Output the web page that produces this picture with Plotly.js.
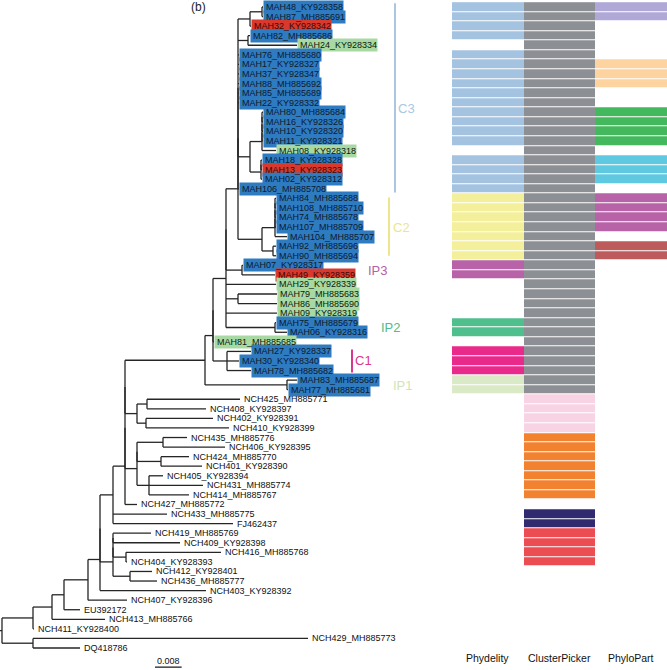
<!DOCTYPE html>
<html><head><meta charset="utf-8">
<script src="https://cdn.plot.ly/plotly-3.0.1.min.js"></script>
<style>html,body{margin:0;padding:0;background:#fff}#chart{width:667px;height:670px}</style>
</head><body><div id="chart"></div>
<script>
// ---------------- DATA ----------------
// Tree (Newick, branch lengths in substitutions/site), assembled from named sub-clades
const cN1   = "((MAH48_KY928358:0.0003,MAH87_MH885691:0.0003):0.0036,MAH32_KY928342:0.0003):0.0036";
const cN82  = "(MAH82_MH885686:0.0006,MAH24_KY928334:0.0147):0.003";
const cPoly = "MAH76_MH885680:0.0003,MAH17_KY928327:0.0003,MAH37_KY928347:0.0003,MAH88_MH885692:0.0003,MAH85_MH885689:0.0003,MAH22_KY928332:0.0003";
const cA80  = "((((MAH80_MH885684:0.0003,MAH16_KY928326:0.0003):0,MAH10_KY928320:0.0003):0,MAH11_KY928321:0.0003):0,MAH08_KY928318:0.0042):0.0036";
const cB18  = "((MAH18_KY928328:0.0003,MAH13_KY928323:0.0003):0,MAH02_KY928312:0.0003):0.0033";
const cN80  = "(" + cA80 + "," + cB18 + "):0.0036";
const cC3   = "((" + cN1 + "," + cN82 + "," + cPoly + "," + cN80 + "):0,MAH106_MH885708:0.0003):0";
const cS    = "((((MAH84_MH885688:0.0003,MAH108_MH885710:0.0003):0,MAH74_MH885678:0.0003):0,MAH107_MH885709:0.0003):0,MAH104_MH885707:0.0036):0.0039";
const cT    = "(MAH92_MH885696:0.0009,MAH90_MH885694:0.0009):0.0033";
const cC2   = "(" + cS + "," + cT + "):0.0072";
const cX    = "(" + cC3 + "," + cC2 + "):0.0036";
const cP    = "(MAH07_KY928317:0.0003,MAH49_KY928359:0.0099):0.0048";
const cQ    = "(MAH79_MH885683:0.0117,MAH86_MH885690:0.0117):0.0036";
const cR    = "(MAH75_MH885679:0.0003,MAH06_KY928316:0.0036):0.0147";
const cY    = "((" + cX + "," + cP + "):0,MAH29_KY928339:0.015," + cQ + ",MAH09_KY928319:0.0153," + cR + "):0.0039";
const cW    = "(MAH27_KY928337:0.0072,MAH30_KY928340:0.0036,MAH78_MH885682:0.0072):0.0042";
const cZ    = "((" + cY + ",MAH81_MH885685:0.0003):0," + cW + "):0.0024";
const cIP1  = "(MAH83_MH885687:0.003,MAH77_MH885681:0.0003):0.0246";
const cV    = "(" + cZ + "," + cIP1 + "):0.024";
const cn1   = "((NCH425_MH885771:0.0279,NCH408_KY928397:0.0177):0.003,(NCH402_KY928391:0.0201,NCH410_KY928399:0.0249):0.0027):0.0036";
const cn4   = "(((NCH435_MH885776:0.0072,NCH406_KY928395:0.0186):0.0078,(NCH424_MH885770:0.0084,NCH401_KY928390:0.0123):0.0072):0,(NCH405_KY928394:0.0042,NCH431_MH885774:0.0162,NCH414_MH885767:0.012):0.0036):0.0036";
const cM    = "(((" + cV + "," + cn1 + "):0," + cn4 + "):0,NCH427_MH885772:0.0036):0.0036";
const cK    = "(" + cM + ",NCH433_MH885775:0.0162,FJ462437:0.036):0.0039";
const cJ    = "(((NCH419_MH885769:0.0114,NCH409_KY928398:0.0201):0,(NCH416_MH885768:0.0285,NCH404_KY928393:0.0003):0.0039):0,(NCH412_KY928401:0.0066,NCH436_MH885777:0.0081):0.0051):0.0039";
const cL    = "((" + cK + "," + cJ + "):0,NCH403_KY928392:0.0318):0.0036";
const cH    = "(" + cL + ",NCH407_KY928396:0.0117):0.0072";
const cG    = "(" + cH + ",EU392172:0.0048):0.0036";
const cF    = "(" + cG + ",NCH413_MH885766:0.0159):0.0057";
const cE    = "(" + cF + ",NCH411_KY928400:0.0003):0.0093";
const cB    = "(NCH429_MH885773:0.0825,DQ418786:0.0141):0.0093";
const newick = "(" + cE + "," + cB + ");";

// Highlight of tip labels (B = blue, R = red, G = green, "" = none), in tip order
const tipHighlight = ["B","B","R","B","G","B","B","B","B","B","B","B","B","B","B","G","B","R","B","B",
  "B","B","B","B","B","B","B","B","R","G","G","G","G","B","B","G","B","B","B","B","B"];

// Cluster membership per tip row for each method
const methods = ["Phydelity", "ClusterPicker", "PhyloPart"];
const rep = (v, n) => Array(n).fill(v);
const phydelity = [].concat(rep("C3",4), [null], rep("C3",10), [null], rep("C3",4), rep("C2",7),
  rep("IP3",2), rep(null,4), rep("IP2",2), [null], rep("C1",3), rep("IP1",2), rep(null,27));
const clusterPicker = [].concat(rep("CP1",41), rep("CP2",4), rep("CP3",7), [null], rep("CP4",2), rep("CP5",4), rep(null,9));
const phyloPart = [].concat(rep("PP1",2), rep(null,4), rep("PP2",3), rep(null,2), rep("PP3",4), [null],
  rep("PP4",3), [null], rep("PP5",4), [null], rep("PP6",2), rep(null,41));
const clusterNames  = ["C3","C2","IP3","IP2","C1","IP1","CP1","CP2","CP3","CP4","CP5","PP1","PP2","PP3","PP4","PP5","PP6"];
const clusterColors = ["#a4c3e0","#f3ef9a","#b862a7","#50bf8e","#ea2a8b","#dbeac6","#8c8f93","#f8d3e4","#f2822f","#302a6f","#ec4d53",
  "#b0a9d8","#fdd39f","#44b85c","#5fc9e2","#b863a8","#bc5a5c"];

// Clade annotations
const cladeNames  = ["C3","C2","IP3","IP2","C1","IP1"];
const cladeColors = ["#a9c7e3","#ebe68c","#b660a6","#4fbd8d","#d9368e","#d3e3b6"];
const cladeBars   = {C3:[-0.4,19.4], C2:[19.9,26.0], C1:[35.8,38.2]};

// ---------------- TREE LAYOUT ----------------
function parseNewick(s){
  let i = 0;
  function node(){
    const n = {children:[], name:"", len:0};
    if (s[i] === "("){
      i++; n.children.push(node());
      while (s[i] === ","){ i++; n.children.push(node()); }
      i++;
    }
    let nm = "";
    while (i < s.length && !",():;".includes(s[i])) nm += s[i++];
    n.name = nm.trim();
    if (s[i] === ":"){ i++; let num = ""; while (i < s.length && !",();".includes(s[i])) num += s[i++]; n.len = parseFloat(num); }
    return n;
  }
  return node();
}
const root = parseNewick(newick);
const tips = [];
(function place(n, d){
  n.x = d + n.len;
  if (!n.children.length){ n.y = tips.length; tips.push(n); return; }
  n.children.forEach(c => place(c, n.x));
  n.y = (n.children[0].y + n.children[n.children.length-1].y) / 2;
})(root, 0);

const lx = [], ly = [];
(function draw(n){
  if (!n.children.length) return;
  const a = n.children[0], b = n.children[n.children.length-1];
  lx.push(n.x, n.x, null); ly.push(a.y, b.y, null);
  n.children.forEach(c => { lx.push(n.x, c.x, null); ly.push(c.y, c.y, null); draw(c); });
})(root);
lx.push(-0.0006, root.x, null); ly.push(root.y, root.y, null);

// ---------------- HEATMAP ----------------
const cols = [phydelity, clusterPicker, phyloPart];
const z = tips.map((t, r) => cols.map(c => c[r] === null ? null : clusterNames.indexOf(c[r])));
const nC = clusterNames.length;
const cs = [];
clusterColors.forEach((c, k) => { cs.push([k/nC, c]); cs.push([(k+1)/nC, c]); });

const traces = [
  {type:"scatter", mode:"lines", x:lx, y:ly, xaxis:"x", yaxis:"y",
   line:{color:"#262626", width:1.3}, hoverinfo:"skip", showlegend:false},
  {type:"heatmap", x:[0,1,2], y:tips.map((t,i)=>i), z:z, xaxis:"x2", yaxis:"y",
   colorscale:cs, zmin:-0.5, zmax:nC-0.5, showscale:false, ygap:1, xgap:0, hoverinfo:"skip"},
  {type:"scatter", mode:"lines", x:[0.0459, 0.0459+0.008], y:[69.0, 69.0], xaxis:"x", yaxis:"y",
   line:{color:"#111", width:1.2}, hoverinfo:"skip", showlegend:false}
];

// ---------------- ANNOTATIONS ----------------
const boxBg  = {B:"#2f7bc0", R:"#d8392c", G:"#a9d9a3"};
const boxTxt = {B:"#0b1a30", R:"#3d0707", G:"#0d1a0d"};
const F = "Liberation Sans, Arial, sans-serif";
const ann = [];
// boxes first (text invisible), then texts
tips.forEach((t, i) => {
  const h = tipHighlight[i];
  if (h) ann.push({x:t.x, y:i, xref:"x", yref:"y", xanchor:"left", yanchor:"middle", showarrow:false,
    text:t.name, font:{family:F, size:9, color:"rgba(0,0,0,0)"}, bgcolor:boxBg[h], borderpad:1});
});
tips.forEach((t, i) => {
  const h = tipHighlight[i];
  ann.push({x:t.x, y:i, xref:"x", yref:"y", xanchor:"left", yanchor:"middle", showarrow:false,
    text:t.name, xshift: h ? 1 : 2, borderpad:1,
    font:{family:F, size:9, color: h ? boxTxt[h] : "#111"}});
});
// clade labels
const cladePos = {C3:[406,108], C2:[401,228], IP3:[378,270], IP2:[391,327], C1:[363,361], IP1:[403,385]};
cladeNames.forEach((c, k) => {
  const p = cladePos[c];
  ann.push({x:p[0]/667, y:1-p[1]/670, xref:"paper", yref:"paper", xanchor:"center", yanchor:"middle",
    showarrow:false, text:c, font:{family:F, size:13, color:cladeColors[k]}});
});
// method labels
methods.forEach((m, k) => ann.push({x:k, y:1-658/670, xref:"x2", yref:"paper", xanchor:"center", yanchor:"middle",
  showarrow:false, text:m, font:{family:F, size:10.5, color:"#111"}}));
ann.push({x:199/667, y:1-7/670, xref:"paper", yref:"paper", showarrow:false, text:"(b)",
  font:{family:F, size:12, color:"#222"}, xanchor:"center", yanchor:"middle"});
ann.push({x:0.0459+0.004, y:68.4, xref:"x", yref:"y", showarrow:false, text:"0.008",
  font:{family:F, size:9, color:"#111"}, xanchor:"center", yanchor:"middle"});

const barX = {C3:395, C2:389, C1:352};
const shapes = Object.keys(cladeBars).map(c => ({type:"line", xref:"paper", yref:"y",
  x0:barX[c]/667, x1:barX[c]/667, y0:cladeBars[c][0], y1:cladeBars[c][1],
  line:{color:cladeColors[cladeNames.indexOf(c)], width:2}}));

const layout = {
  width:667, height:670, margin:{l:0,r:0,t:0,b:0}, paper_bgcolor:"#fff", plot_bgcolor:"rgba(0,0,0,0)",
  showlegend:false,
  xaxis:{domain:[0,1], range:[-0.0006, 0.1995], visible:false, fixedrange:true},
  xaxis2:{domain:[452/667, 1], range:[-0.5, 2.5], anchor:"y", visible:false},
  yaxis:{domain:[0,1], range:[69.30, -0.732], visible:false},
  annotations:ann, shapes:shapes
};
Plotly.newPlot("chart", traces, layout, {staticPlot:true});
</script></body></html>
